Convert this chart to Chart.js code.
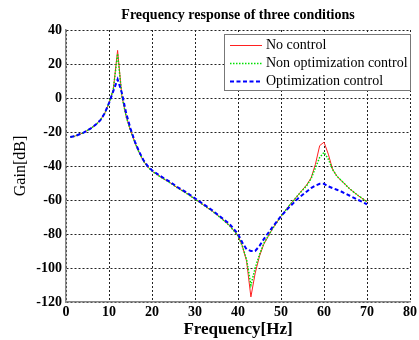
<!DOCTYPE html>
<html>
<head>
<meta charset="utf-8">
<script src="https://cdn.jsdelivr.net/npm/chart.js@4/dist/chart.umd.min.js"></script>
<style>
html,body{margin:0;padding:0;background:#fff;}
canvas{display:block;}
</style>
</head>
<body>
<canvas id="c" width="419" height="340"></canvas>
<script>
const chartTitle = "Frequency response of three conditions";
const xTitle = "Frequency[Hz]";
const yTitle = "Gain[dB]";
const seriesNames = ["No control", "Non optimization control", "Optimization control"];

const freqs = [1,2,3,4,5,6,7,8,9,10,11,12,13,14,15,16,17,18,19,20,22,24,26,28,30,32,34,36,38,40,41,42,43,44,45,46,48,50,52,54,56,57,58,59,60,61,62,63,64,66,68,70];

const noControl = [-23,-22.5,-21.5,-20.5,-19,-17.5,-15.5,-13,-9,-3,5,28,1,-11,-19,-26,-32,-37,-40.5,-43,-46.5,-49.5,-53,-56,-59.5,-63,-66.5,-70.5,-75,-81,-87,-96,-117,-103,-93,-86,-77,-69.5,-63,-57,-51,-47,-39,-28,-26,-33,-42,-46,-48.5,-53.5,-57.5,-61];

const nonOptimization = [-23,-22.5,-21.5,-20.5,-19,-17.5,-15.5,-13,-9,-3,5,26,1,-11,-19,-26,-32,-37,-40.5,-43,-46.5,-49.5,-53,-56,-59.5,-63,-66.5,-70.5,-75,-81,-87,-95,-110,-100,-92,-85.5,-77,-69.5,-63,-57,-51.5,-47.5,-41,-35,-32,-36,-42,-46,-48.5,-53.5,-57.5,-61];

const optimization = [-23,-22.5,-21.5,-20.5,-19,-17.5,-15.5,-13,-9,-3,4,11,3,-9,-18,-25.5,-31.5,-36.5,-40,-42.5,-46,-49,-52.5,-55.5,-59,-62.5,-66,-70,-74,-80,-85,-89,-90,-90,-87,-83,-76,-69.5,-64,-59,-55,-53,-51.5,-50.5,-50.5,-52,-53,-54,-55,-57.5,-60,-62.5];

const xTicks = [0,10,20,30,40,50,60,70,80];
const yTicks = [40,20,0,-20,-40,-60,-80,-100,-120];

const serif = "'Liberation Serif', 'Times New Roman', serif";

function pts(vals){ return freqs.map((f,i)=>({x:f, y:vals[i]})); }

const styles = [
  {color:'#ff2020', width:1, dash:[]},
  {color:'#00e000', width:1.5, dash:[1.5,1.5]},
  {color:'#0000ff', width:2, dash:[4,2.5]}
];

const titlePlugin = {
  id:'topTitle',
  afterDraw(chart){
    const ctx = chart.ctx, a = chart.chartArea;
    ctx.save();
    ctx.font = "bold 14px " + serif;
    ctx.fillStyle = '#000';
    ctx.textAlign = 'center';
    ctx.textBaseline = 'middle';
    ctx.fillText(chartTitle, (a.left + a.right)/2, 15);
    ctx.restore();
  }
};

const legendPlugin = {
  id:'boxLegend',
  afterDatasetsDraw(chart){
    const ctx = chart.ctx, a = chart.chartArea;
    const x0 = 224, y0 = 34, w = a.right - 224 + 1, h = 57;
    ctx.save();
    ctx.fillStyle = '#fff';
    ctx.fillRect(x0, y0, w, h);
    ctx.strokeStyle = '#777';
    ctx.lineWidth = 1;
    ctx.setLineDash([]);
    ctx.strokeRect(x0+0.5, y0+0.5, w-1, h-1);
    const rows = [45.5, 63.5, 81.5];
    ctx.font = "14px " + serif;
    ctx.textBaseline = 'middle';
    ctx.textAlign = 'left';
    chart.data.datasets.forEach((ds, i) => {
      const y = rows[i];
      ctx.strokeStyle = ds.borderColor;
      ctx.lineWidth = ds.borderWidth;
      ctx.setLineDash(ds.borderDash || []);
      ctx.beginPath();
      ctx.moveTo(230, y);
      ctx.lineTo(262, y);
      ctx.stroke();
      ctx.fillStyle = '#000';
      ctx.fillText(ds.label, 266, y);
    });
    ctx.restore();
  }
};

const datasets = [noControl, nonOptimization, optimization].map((vals, i) => ({
  label: seriesNames[i],
  data: pts(vals),
  borderColor: styles[i].color,
  backgroundColor: styles[i].color,
  borderWidth: styles[i].width,
  borderDash: styles[i].dash,
  pointRadius: 0,
  tension: 0,
  fill: false,
  order: 3 - i
}));

new Chart(document.getElementById('c'), {
  type: 'line',
  data: { datasets },
  plugins: [titlePlugin, legendPlugin],
  options: {
    responsive: false,
    devicePixelRatio: 1,
    animation: false,
    layout: { padding: { top: 30, right: 9, left: 0, bottom: 0 } },
    plugins: { legend: { display: false }, tooltip: { enabled: false }, title: { display: false } },
    scales: {
      x: {
        type: 'linear', min: 0, max: 80,
        afterBuildTicks(s){ s.ticks = xTicks.map(v => ({value:v})); },
        afterFit(s){ s.height = 38; },
        ticks: { color:'#000', font:{ family: serif, size: 14, weight: 'bold' }, padding: 2, maxRotation: 0 },
        grid: { color:'#222', lineWidth: 1, drawTicks: false },
        border: { display: true, color:'#888', width: 1.5, dash:[2,2] },
        title: { display: true, text: xTitle, color:'#000', font:{ family: serif, size: 17, weight:'bold' }, padding:{ top:0, bottom:0 } }
      },
      y: {
        type: 'linear', min: -120, max: 40,
        afterBuildTicks(s){ s.ticks = yTicks.map(v => ({value:v})); },
        afterFit(s){ s.width = 66; },
        ticks: { color:'#000', font:{ family: serif, size: 14, weight: 'bold' }, padding: 4 },
        grid: { color:'#222', lineWidth: 1, drawTicks: false },
        border: { display: true, color:'#888', width: 1.5, dash:[2,2] },
        title: { display: true, text: yTitle, color:'#000', font:{ family: serif, size: 16 }, padding:{ top: 11, bottom: 0 } }
      }
    }
  }
});
</script>
</body>
</html>
